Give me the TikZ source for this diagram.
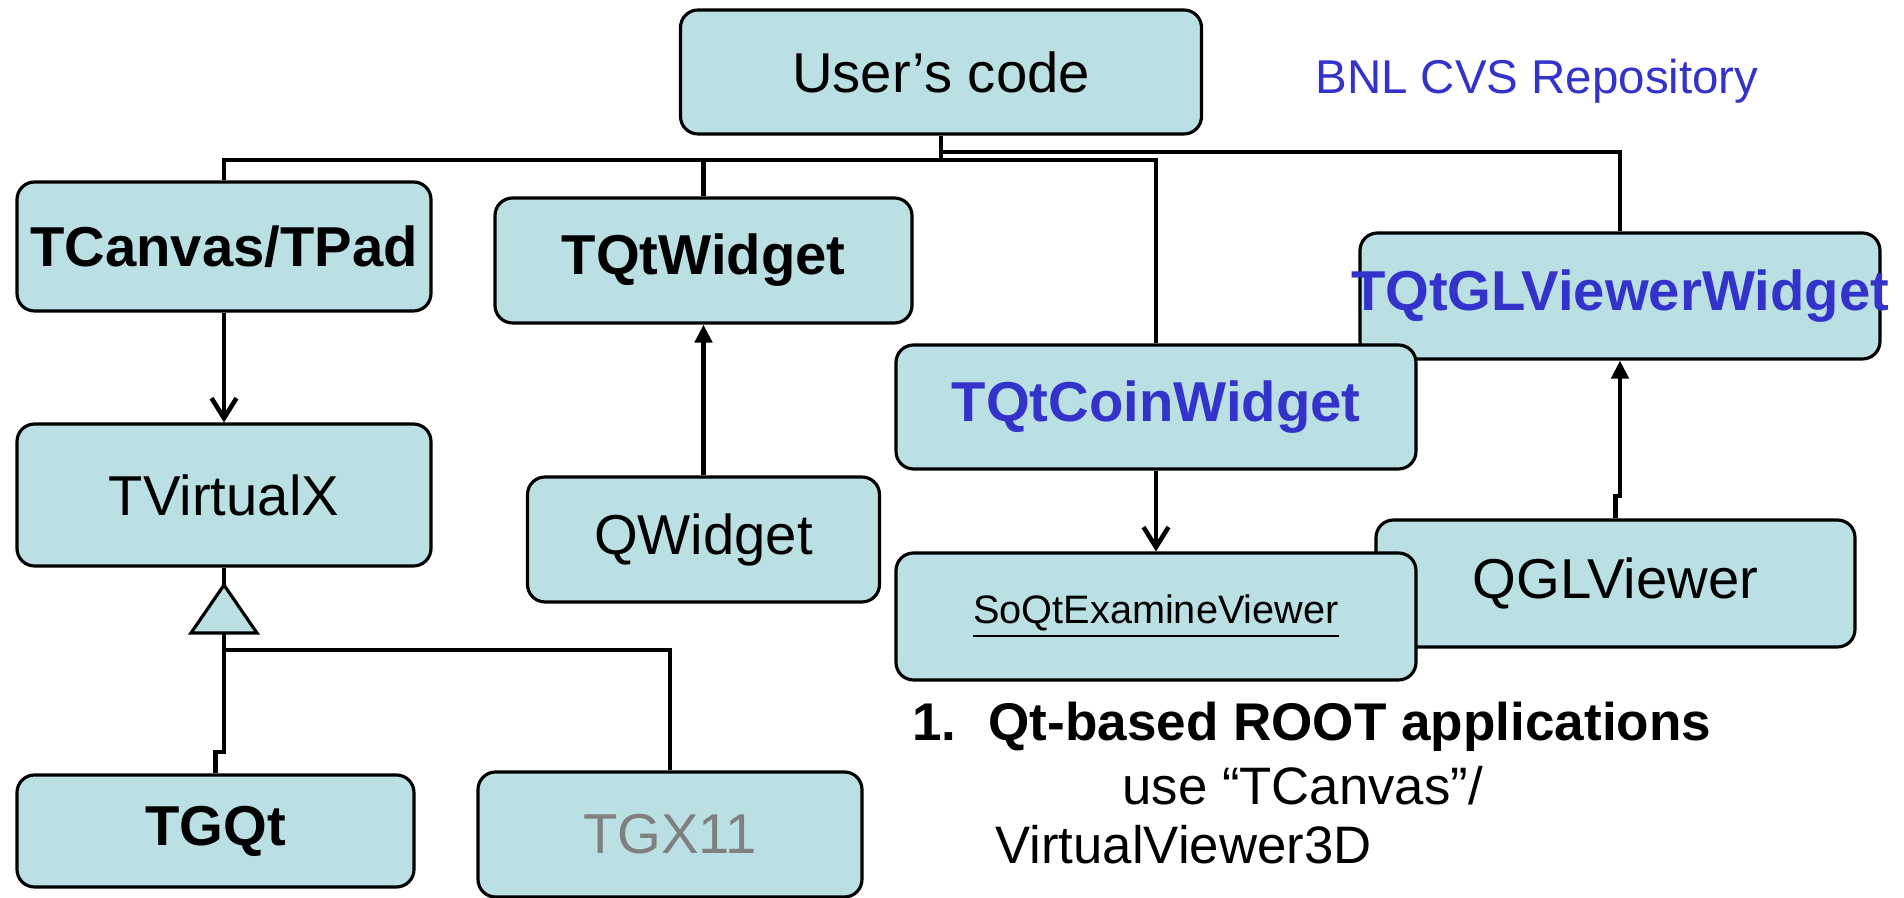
\documentclass[tikz,border=0pt]{standalone}
\usepackage{fontspec}
\setmainfont{Liberation Sans}
\usetikzlibrary{arrows.meta}
\definecolor{boxfill}{RGB}{187,224,227}
\definecolor{repoblue}{RGB}{51,51,204}
\definecolor{oldgray}{RGB}{128,128,128}
\begin{document}
\begin{tikzpicture}[cls/.style={rectangle, rounded corners=5pt, fill=boxfill, draw, line width=0.9pt, inner sep=0pt, font=\fontsize{16}{19}\selectfont},
    openhead/.style={-{Straight Barb[length=0.2cm, width=0.25cm]}},
    fillhead/.style={-{Triangle[length=0.18cm, width=0.17cm]}}]
    \useasboundingbox (0,0) rectangle (19.04,8.98);

    \begin{scope}[every node/.style={cls}]
        \node [minimum width=5.21cm, minimum height=1.24cm] (user) at (9.41,8.26) {User's code};
        \node [minimum width=4.14cm, minimum height=1.29cm] (tcanvas) at (2.24,6.515) {\bfseries TCanvas/TPad};
        \node [minimum width=4.17cm, minimum height=1.25cm] (tqtwidget) at (7.035,6.375) {\bfseries TQtWidget};
        \node [minimum width=5.20cm, minimum height=1.26cm] (tqtgl) at (16.20,6.02) {\makebox[0pt]{\bfseries\color{repoblue}TQtGLViewerWidget}};
        \node [minimum width=5.20cm, minimum height=1.24cm] (tqtcoin) at (11.56,4.91) {\bfseries\color{repoblue}TQtCoinWidget};
        \node [minimum width=4.14cm, minimum height=1.42cm] (tvirtualx) at (2.24,4.03) {TVirtualX};
        \node [minimum width=3.52cm, minimum height=1.25cm] (qwidget) at (7.035,3.585) {QWidget};
        \node [minimum width=4.79cm, minimum height=1.27cm] (qgl) at (16.155,3.145) {QGLViewer};
        \node [minimum width=5.20cm, minimum height=1.27cm] (soqt) at (11.56,2.815) {\fontsize{11.3}{13}\selectfont\underline{SoQtExamineViewer}};
        \node [minimum width=3.97cm, minimum height=1.12cm] (tgqt) at (2.155,0.67) {\bfseries TGQt};
        \node [minimum width=3.84cm, minimum height=1.25cm] (tgx11) at (6.70,0.635) {\color{oldgray}TGX11};
    \end{scope}

    % fan-out from the user's code
    \coordinate (hub) at (9.41,7.38);
    \coordinate (hubr) at (9.41,7.46);
    \begin{scope}[line width=1.3pt]
        \draw (user.south) -- (hub);
        \draw (hub) -| (tcanvas.north);
        \draw (hub) -| (tqtwidget.north);
        \draw (hub) -| (tqtcoin.north);
        \draw (hubr) -| (tqtgl.north);
    \end{scope}

    \begin{scope}[line width=1.3pt]
        \draw [openhead] (tcanvas) -- (tvirtualx);
        \draw [fillhead] (qwidget) -- (tqtwidget);
        \draw [openhead] (tqtcoin) -- (soqt);
        \coordinate (gljog) at (16.20,4.02);
        \draw [fillhead] (qgl.north) |- (gljog) -- (tqtgl.south);
    \end{scope}

    % inheritance
    \coordinate (apex) at (2.24,3.13);
    \coordinate (tribase) at (2.24,2.65);
    \coordinate (bus) at (2.24,2.48);
    \coordinate (qtjog) at (2.24,1.46);
    \draw [line width=1.3pt] (tvirtualx.south) -- (apex);
    \draw [fill=boxfill, line width=0.9pt] (apex) -- ++(-0.33,-0.48) -- ++(0.66,0) -- cycle;
    \draw [line width=1.3pt] (tribase) -- (qtjog) -| (tgqt.north);
    \draw [line width=1.3pt] (bus) -| (tgx11.north);

    \node [repoblue, font=\fontsize{13.5}{16}\selectfont] (repo) at (15.37,8.17) {BNL CVS Repository};
    \node [anchor=west, font=\fontsize{15.1}{18}\selectfont\bfseries] (note1) at (9.00,1.71) {1.\hspace{0.32cm}Qt-based ROOT applications};
    \node [anchor=west, font=\fontsize{15}{18}\selectfont] (note2) at (11.10,1.12) {use “TCanvas”/};
    \node [anchor=west, font=\fontsize{15}{18}\selectfont] (note3) at (9.83,0.53) {VirtualViewer3D};

\end{tikzpicture}
\end{document}
